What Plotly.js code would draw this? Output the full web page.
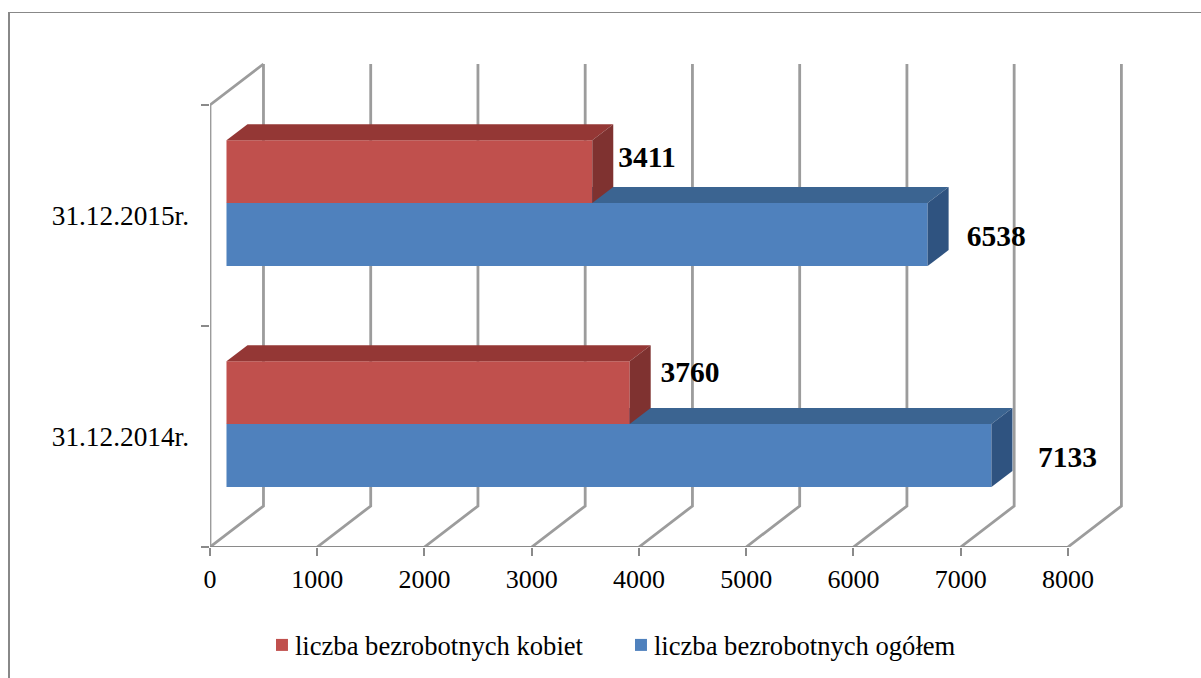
<!DOCTYPE html>
<html>
<head>
<meta charset="utf-8">
<script src="https://cdn.plot.ly/plotly-3.0.1.min.js"></script>
<style>
html,body{margin:0;padding:0;background:#fff;width:1201px;height:678px;overflow:hidden}
#frame{position:absolute;left:8px;top:12px;width:1193px;height:680px;border-left:2px solid #888;border-top:1px solid #888;pointer-events:none}
#chart{position:absolute;left:0;top:0;width:1201px;height:678px}
</style>
</head>
<body>
<div id="frame"></div>
<div id="chart"></div>
<script>
const categories = ['31.12.2014r.', '31.12.2015r.'];
const seriesKobiet = [3760, 3411];
const seriesOgolem = [7133, 6538];
const nameKobiet = 'liczba bezrobotnych kobiet';
const nameOgolem = 'liczba bezrobotnych ogółem';
const axisTicks = [0, 1000, 2000, 3000, 4000, 5000, 6000, 7000, 8000];

// 3D projection constants, in axis units
const pxX = 0.1073, pxY = 221, L = 209.5, R = 1125, T = 60, B = 547;
const wallDx = 53.5 / pxX, wallDy = 41 / pxY;
const barDx = 16.5 / pxX, barLift = 0.056, barW = 0.285;
const depthDx = 21 / pxX, depthDy = 16 / pxY;
const GRID = '#9C9C9C', AXIS = '#8A8A8A';
const serif = '"Liberation Serif", "Times New Roman", serif';
const catY = categories.map((c, i) => i + 0.5);

const traces = [];
// back wall gridlines (floor slope + vertical)
axisTicks.forEach(v => traces.push({
  type: 'scatter', mode: 'lines', x: [v, v + wallDx, v + wallDx], y: [0, wallDy, 2 + wallDy],
  line: {color: GRID, width: 2.8}, showlegend: false, hoverinfo: 'skip', cliponaxis: false
}));
// left wall: front edge with top slope, and floor axis
traces.push({type: 'scatter', mode: 'lines', x: [wallDx, 0, 0], y: [2 + wallDy, 2, 0],
  line: {color: GRID, width: 2.8}, showlegend: false, hoverinfo: 'skip', cliponaxis: false});
traces.push({type: 'scatter', mode: 'lines', x: [0, 8000], y: [0, 0],
  line: {color: AXIS, width: 2}, showlegend: false, hoverinfo: 'skip', cliponaxis: false});

function solid(values, sign, name, rank, front, top, side, ax) {
  const xa = 'x' + ax, ya = 'y' + ax;
  const y0 = sign > 0 ? 0 : -barW, y1 = y0 + barW; // relative to category centre
  values.forEach((v, i) => {
    const low = catY[i] + barLift + y0, high = catY[i] + barLift + y1;
    traces.push({type: 'scatter', mode: 'lines', xaxis: xa, yaxis: ya, fill: 'toself', fillcolor: top,
      x: [barDx, barDx + depthDx, barDx + v + depthDx, barDx + v, barDx],
      y: [high, high + depthDy, high + depthDy, high, high],
      line: {width: 0, color: top}, showlegend: false, hoverinfo: 'skip'});
    traces.push({type: 'scatter', mode: 'lines', xaxis: xa, yaxis: ya, fill: 'toself', fillcolor: side,
      x: [barDx + v, barDx + v + depthDx, barDx + v + depthDx, barDx + v, barDx + v],
      y: [high, high + depthDy, low + depthDy, low, high],
      line: {width: 0, color: side}, showlegend: false, hoverinfo: 'skip'});
  });
  traces.push({type: 'bar', orientation: 'h', xaxis: xa, yaxis: ya, name: name, legendrank: rank,
    x: values, base: values.map(() => barDx), width: barW,
    y: catY.map(c => c + barLift + (y0 + y1) / 2),
    marker: {color: front, line: {width: 0}}, hoverinfo: 'skip'});
}
solid(seriesOgolem, -1, nameOgolem, 2, '#4F81BD', '#3B6491', '#2F5380', 2);
solid(seriesKobiet, 1, nameKobiet, 1, '#C0504D', '#943735', '#7F3230', 3);

// data labels (hand-placed offsets, as in the original)
const labelDxOgolem = [862, 793], labelYOgolem = [0.394, 1.394];
const labelDxKobiet = [717, 664], labelYKobiet = [0.778, 1.751];
traces.push({type: 'scatter', mode: 'text', xaxis: 'x3', yaxis: 'y3', showlegend: false, hoverinfo: 'skip', cliponaxis: false,
  x: seriesOgolem.map((v, i) => v + labelDxOgolem[i]).concat(seriesKobiet.map((v, i) => v + labelDxKobiet[i])),
  y: labelYOgolem.concat(labelYKobiet),
  text: seriesOgolem.concat(seriesKobiet).map(String),
  textposition: 'middle center',
  textfont: {family: serif, size: 29.5, color: '#000', weight: 'bold'}});

const xr = [0, (R - L) / pxX], yr = [0, (B - T) / pxY];
const over = k => ({overlaying: k, range: k === 'x' ? xr : yr, visible: false, fixedrange: true});
const layout = {
  width: 1201, height: 678, autosize: false,
  margin: {l: L, r: 1201 - R, t: T, b: 678 - B, pad: 0},
  paper_bgcolor: 'rgba(0,0,0,0)', plot_bgcolor: 'rgba(0,0,0,0)',
  barmode: 'overlay', hovermode: false,
  font: {family: serif, color: '#000'},
  xaxis: {range: xr, fixedrange: true, showgrid: false, zeroline: false, showline: false,
    tickmode: 'array', tickvals: axisTicks, ticktext: axisTicks.map(String), ticklabelstandoff: 1,
    ticks: 'outside', ticklen: 8, tickwidth: 2, tickcolor: AXIS, tickfont: {family: serif, size: 26, color: '#000'}},
  yaxis: {range: yr, fixedrange: true, showgrid: false, zeroline: false, showline: false,
    tickmode: 'array', tickvals: catY, ticktext: categories, ticks: '', ticklabelstandoff: 20,
    tickfont: {family: serif, size: 27.3, color: '#000'},
    minor: {tickmode: 'array', tickvals: [0, 1, 2], ticks: 'outside', ticklen: 8, tickwidth: 2, tickcolor: AXIS, showgrid: false}},
  xaxis2: over('x'), yaxis2: over('y'), xaxis3: over('x'), yaxis3: over('y'),
  legend: {orientation: 'h', xref: 'container', yref: 'container', x: 0.2123, y: 0.0485, xanchor: 'left', yanchor: 'middle',
    entrywidth: 314, entrywidthmode: 'pixels',
    font: {family: serif, size: 26.6, color: '#000'}, bgcolor: 'rgba(0,0,0,0)', traceorder: 'normal'},
  showlegend: true
};
Plotly.newPlot('chart', traces, layout, {displayModeBar: false, staticPlot: true}).then(gd => {
  // tighten legend swatches toward their text, as in the original
  gd.querySelectorAll('.legend .legendsymbols').forEach(s => s.setAttribute('transform', 'translate(7,0)'));
});
</script>
</body>
</html>
